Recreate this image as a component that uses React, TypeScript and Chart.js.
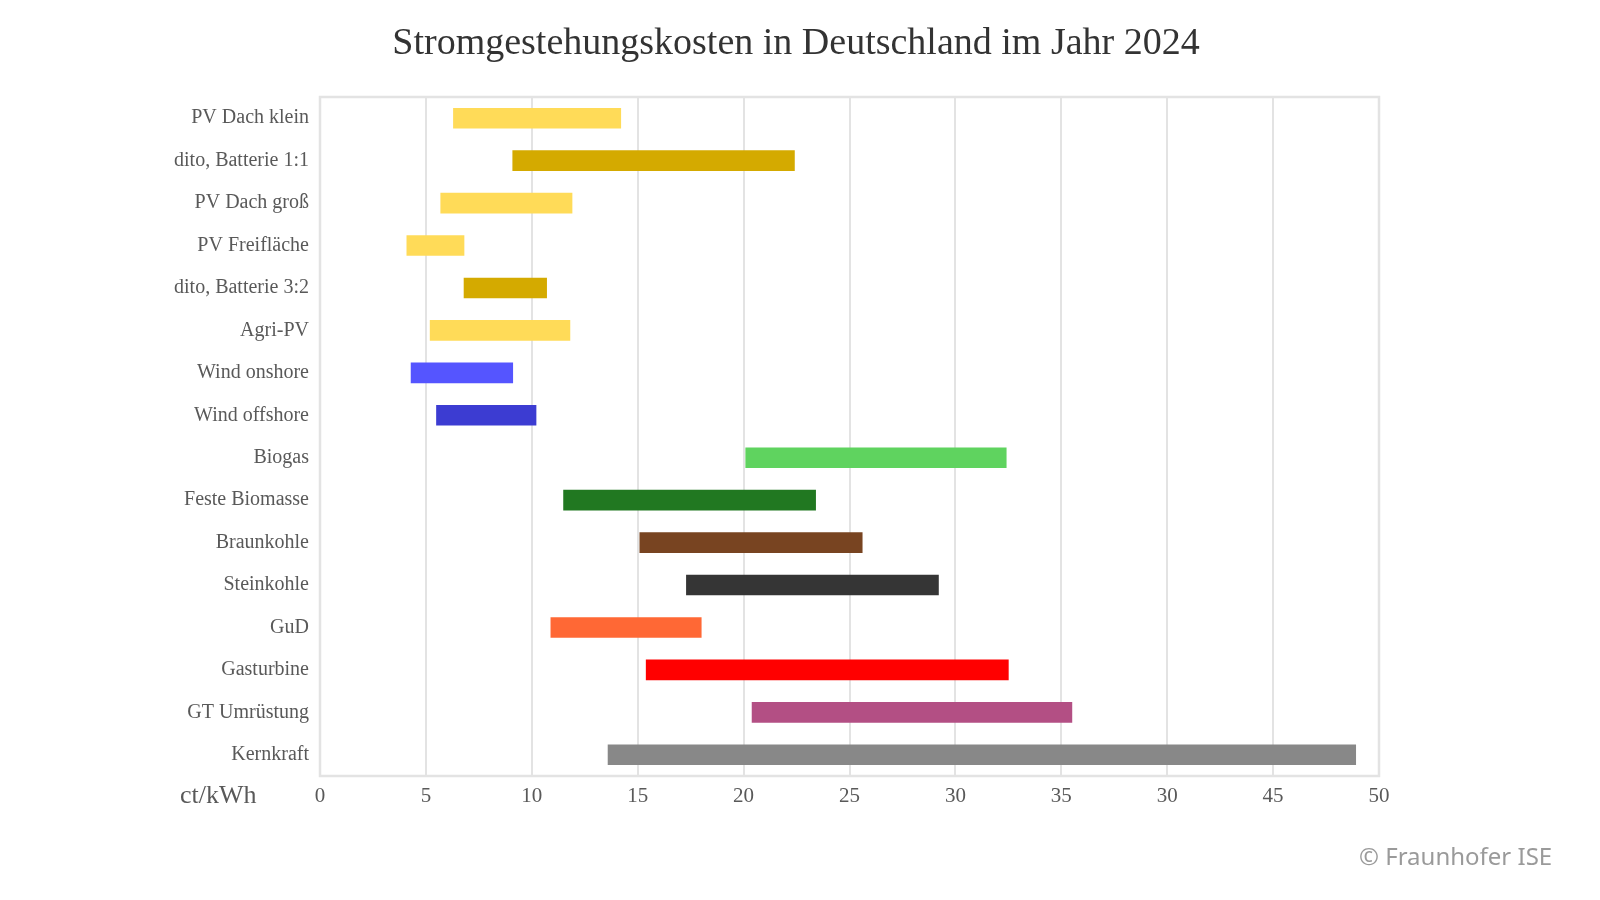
import { useEffect, useRef } from "react"
import { Chart, registerables } from "chart.js"

Chart.register(...registerables)

// Data (ct/kWh, low and high end of each range)
const categories = [
  "PV Dach klein",
  "dito, Batterie 1:1",
  "PV Dach groß",
  "PV Freifläche",
  "dito, Batterie 3:2",
  "Agri-PV",
  "Wind onshore",
  "Wind offshore",
  "Biogas",
  "Feste Biomasse",
  "Braunkohle",
  "Steinkohle",
  "GuD",
  "Gasturbine",
  "GT Umrüstung",
  "Kernkraft",
]
const lowValues = [6.3, 9.1, 5.7, 4.1, 6.8, 5.2, 4.3, 5.5, 20.1, 11.5, 15.1, 17.3, 10.9, 15.4, 20.4, 13.6]
const highValues = [14.2, 22.4, 11.9, 6.8, 10.7, 11.8, 9.1, 10.2, 32.4, 23.4, 25.6, 29.2, 18.0, 32.5, 35.5, 48.9]
// the source chart labels the 40 tick as "30"
const tickLabels = ["0", "5", "10", "15", "20", "25", "30", "35", "30", "45", "50"]

const barColors = [
  "#FFDB58",
  "#D4AA00",
  "#FFDB58",
  "#FFDB58",
  "#D4AA00",
  "#FFDB58",
  "#5555FF",
  "#3C3CD2",
  "#5FD35F",
  "#217821",
  "#784421",
  "#353535",
  "#FF6835",
  "#FF0000",
  "#B34F84",
  "#888888",
]

const SERIF = "'Liberation Serif', 'Times New Roman', serif"

// Title, unit label, copyright and the frame round the plot area
const decorations = {
  id: "decorations",
  beforeDraw(chart: Chart) {
    const { ctx, width, height } = chart
    ctx.save()
    ctx.fillStyle = "#ffffff"
    ctx.fillRect(0, 0, width, height)
    ctx.restore()
  },
  afterDraw(chart: Chart) {
    const { ctx, chartArea } = chart
    ctx.save()
    ctx.strokeStyle = "#e3e3e3"
    ctx.lineWidth = 2.5
    ctx.strokeRect(chartArea.left, chartArea.top, chartArea.right - chartArea.left, chartArea.bottom - chartArea.top)

    ctx.fillStyle = "#333333"
    ctx.font = `38px ${SERIF}`
    ctx.textAlign = "center"
    ctx.textBaseline = "middle"
    ctx.fillText("Stromgestehungskosten in Deutschland im Jahr 2024", 796, 44)

    ctx.fillStyle = "#595959"
    ctx.font = `26px ${SERIF}`
    ctx.textAlign = "left"
    ctx.fillText("ct/kWh", 180, 796)

    ctx.fillStyle = "#9a9a9a"
    ctx.font = "24px 'Noto Sans', sans-serif"
    ctx.fillText("© Fraunhofer ISE", 1359, 858)
    ctx.restore()
  },
}

export default function App() {
  const chartRef = useRef<HTMLCanvasElement>(null)
  const chartInstance = useRef<Chart | null>(null)

  useEffect(() => {
    if (!chartRef.current) return
    if (chartInstance.current) {
      chartInstance.current.destroy()
    }

    const ranges = categories.map((_, i) => [lowValues[i], highValues[i]])

    const ctx = chartRef.current.getContext("2d")
    if (ctx) {
      chartInstance.current = new Chart(ctx, {
        type: "bar",
        data: {
          labels: categories,
          datasets: [
            {
              label: "Stromgestehungskosten",
              data: ranges as any,
              backgroundColor: barColors,
              borderWidth: 0,
              borderSkipped: false,
              barThickness: 20,
            },
          ],
        },
        options: {
          indexAxis: "y",
          animation: false,
          responsive: true,
          maintainAspectRatio: false,
          layout: {
            padding: { top: 97, right: 221, bottom: 0, left: 0 },
          },
          scales: {
            x: {
              min: 0,
              max: 50,
              ticks: {
                stepSize: 5,
                color: "#595959",
                font: { family: SERIF, size: 21 },
                padding: 8,
                callback: (_value, index) => tickLabels[index],
              },
              grid: {
                color: "#e3e3e3",
                lineWidth: 2,
                drawTicks: false,
              },
              border: { display: false },
              afterFit: (scale: any) => {
                scale.height = 124
              },
            },
            y: {
              ticks: {
                color: "#595959",
                font: { family: SERIF, size: 20 },
                padding: 11,
              },
              grid: { display: false, drawTicks: false },
              border: { display: false },
              afterFit: (scale: any) => {
                scale.width = 320
              },
            },
          },
          plugins: {
            legend: { display: false },
            tooltip: { enabled: false },
            title: { display: false },
          },
        },
        plugins: [decorations],
      })
    }

    return () => {
      if (chartInstance.current) {
        chartInstance.current.destroy()
        chartInstance.current = null
      }
    }
  }, [])

  return (
    <div style={{ position: "absolute", left: 0, top: 0, width: 1600, height: 900, background: "#fff" }}>
      <canvas ref={chartRef} />
    </div>
  )
}
